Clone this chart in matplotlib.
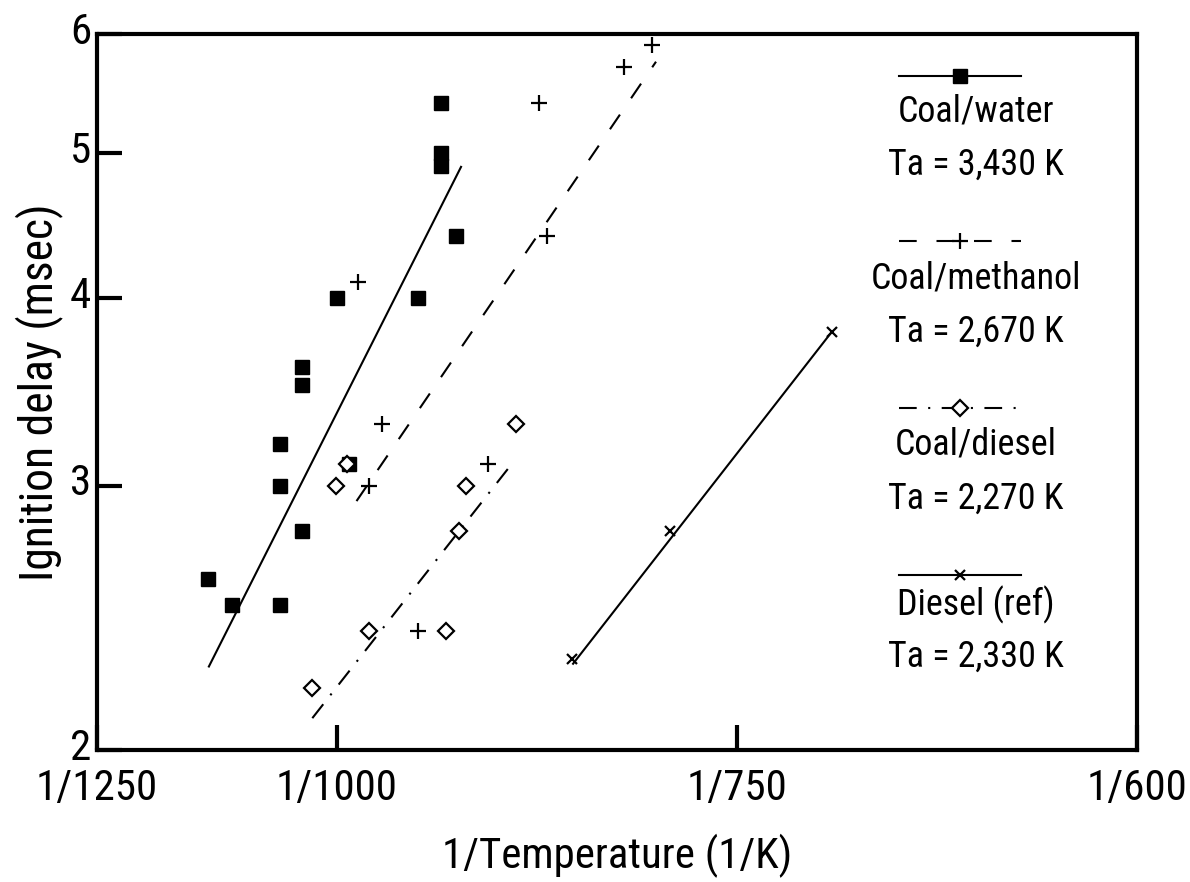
import numpy as np
import matplotlib.pyplot as plt
import matplotlib.font_manager as fm
import matplotlib.transforms as mtransforms
from matplotlib.ticker import FixedLocator, FixedFormatter, NullLocator

# the original uses a narrow plotter font: take a condensed face if one is installed
avail = {(f.name, f.stretch) for f in fm.fontManager.ttflist}
fam_names = {n for n, s in avail}
if 'Liberation Sans Narrow' in fam_names:
    plt.rcParams['font.family'] = ['Liberation Sans Narrow', 'DejaVu Sans']
elif 'Roboto Condensed' in fam_names:
    plt.rcParams['font.family'] = ['Roboto Condensed', 'DejaVu Sans']
elif ('DejaVu Sans', 'condensed') in avail:
    plt.rcParams['font.family'] = ['DejaVu Sans']
    plt.rcParams['font.stretch'] = 'condensed'
else:
    plt.rcParams['font.family'] = ['DejaVu Sans']

# measured points: gas temperature (K) and ignition delay (msec)
T_water = [1120, 1096, 1050, 1050, 1050, 1030, 1030, 1030, 1000, 990, 937, 920, 920, 920, 910]
tau_water = [2.6, 2.5, 2.5, 3.0, 3.2, 2.8, 3.5, 3.6, 4.0, 3.1, 4.0, 5.4, 5.0, 4.9, 4.4]

T_methanol = [983, 964, 974, 937, 888, 851, 856, 807, 792]
tau_methanol = [4.1, 3.3, 3.0, 2.4, 3.1, 4.4, 5.4, 5.7, 5.9]

T_diesel = [1021, 974, 1001, 992, 917, 908, 903, 870]
tau_diesel = [2.2, 2.4, 3.0, 3.1, 2.4, 2.8, 3.0, 3.3]

T_ref = [836, 783, 708]
tau_ref = [2.3, 2.8, 3.8]

# Arrhenius fit lines (end points)
fit_T_water = [1120, 906]
fit_tau_water = [2.27, 4.90]
fit_T_methanol = [984, 790]
fit_tau_methanol = [2.93, 5.75]
fit_T_diesel = [1021, 871]
fit_tau_diesel = [2.10, 3.12]
fit_T_ref = [836, 708]
fit_tau_ref = [2.28, 3.80]

names = ['Coal/water', 'Coal/methanol', 'Coal/diesel', 'Diesel (ref)']
Ta_labels = ['Ta = 3,430 K', 'Ta = 2,670 K', 'Ta = 2,270 K', 'Ta = 2,330 K']

x_tick_T = [1250, 1000, 750, 600]
x_tick_labels = ['1/1250', '1/1000', '1/750', '1/600']
y_ticks = [2, 3, 4, 5, 6]

inv = lambda T: 1.0 / np.asarray(T, dtype=float)

styles = [
    dict(color='k', lw=1.5, ls='-', marker='s', ms=9.5, mfc='k', mec='k'),
    dict(color='k', lw=1.5, ls=(0, (8.5, 9.5)), marker='+', ms=11, mew=1.6),
    dict(color='k', lw=1.5, ls=(0, (8.5, 5.5, 1, 5.5)), marker='D', ms=8, mfc='w', mec='k', mew=1.6),
    dict(color='k', lw=1.5, ls='-', marker='x', ms=7, mew=1.6),
]

fig = plt.figure(figsize=(11.9, 8.82), dpi=100, facecolor='w')
ax = fig.add_axes([0.0815, 0.1497, 0.874, 0.8118])
renderer = fig.canvas.get_renderer()


def fit_size(text, size_max, width_px):
    # largest font size (up to size_max) whose text is no wider than width_px
    t = fig.text(0, 0, text, fontsize=size_max)
    w = t.get_window_extent(renderer).width
    t.remove()
    return min(size_max, size_max * width_px / w)


xtick_fs = fit_size('1/1250', 31, 122)
ytick_fs = 31
leg_fs = fit_size('Ta = 3,430 K', 27, 176)
xlab_fs = fit_size('1/Temperature (1/K)', 31, 350)
ylab_fs = fit_size('Ignition delay (msec)', 33, 378)

points = [(T_water, tau_water), (T_methanol, tau_methanol), (T_diesel, tau_diesel), (T_ref, tau_ref)]
fits = [(fit_T_water, fit_tau_water), (fit_T_methanol, fit_tau_methanol),
        (fit_T_diesel, fit_tau_diesel), (fit_T_ref, fit_tau_ref)]

for (T, tau), (fT, ftau), st in zip(points, fits, styles):
    ax.plot(inv(fT), ftau, color='k', lw=st['lw'], ls=st['ls'], solid_capstyle='butt')
    mk = {k: v for k, v in st.items() if k.startswith('m')}
    ax.plot(inv(T), tau, ls='none', color='k', **mk)

ax.set_yscale('log')
ax.set_xlim(1 / 1250, 1 / 600)
ax.set_ylim(2, 6)

ax.xaxis.set_major_locator(FixedLocator(list(inv(x_tick_T))))
ax.xaxis.set_major_formatter(FixedFormatter(x_tick_labels))
ax.xaxis.set_minor_locator(NullLocator())
ax.yaxis.set_major_locator(FixedLocator(y_ticks))
ax.yaxis.set_major_formatter(FixedFormatter([str(v) for v in y_ticks]))
ax.yaxis.set_minor_locator(NullLocator())

ax.tick_params(axis='both', direction='in', length=18, width=3)
ax.tick_params(axis='x', pad=13, labelsize=xtick_fs)
ax.tick_params(axis='y', pad=4, labelsize=ytick_fs)
for s in ax.spines.values():
    s.set_linewidth(3)

# y tick labels sit a little above their ticks in the original
lift = mtransforms.ScaledTranslation(0, 4.5 / 72, fig.dpi_scale_trans)
for tk in ax.yaxis.get_major_ticks():
    tk.label1.set_transform(tk.label1.get_transform() + lift)

ax.set_xlabel('1/Temperature (1/K)', fontsize=xlab_fs, va='center')
ax.set_ylabel('Ignition delay (msec)', fontsize=ylab_fs, va='center')
ax.xaxis.set_label_coords(0.5, -0.148)
ax.yaxis.set_label_coords(-0.056, 0.5)

# legend drawn by hand: line sample, name, activation temperature underneath
sample_y = [0.941, 0.711, 0.478, 0.244]
name_y = [0.892, 0.659, 0.427, 0.203]
ta_y = [0.817, 0.584, 0.351, 0.130]
for i, st in enumerate(styles):
    ax.plot([0.771, 0.830, 0.888], [sample_y[i]] * 3, transform=ax.transAxes,
            markevery=[1], **st)
    ax.text(0.845, name_y[i], names[i], transform=ax.transAxes,
            ha='center', va='center', fontsize=leg_fs)
    ax.text(0.845, ta_y[i], Ta_labels[i], transform=ax.transAxes,
            ha='center', va='center', fontsize=leg_fs)

fig.savefig('out.png', dpi=100, facecolor='w')
